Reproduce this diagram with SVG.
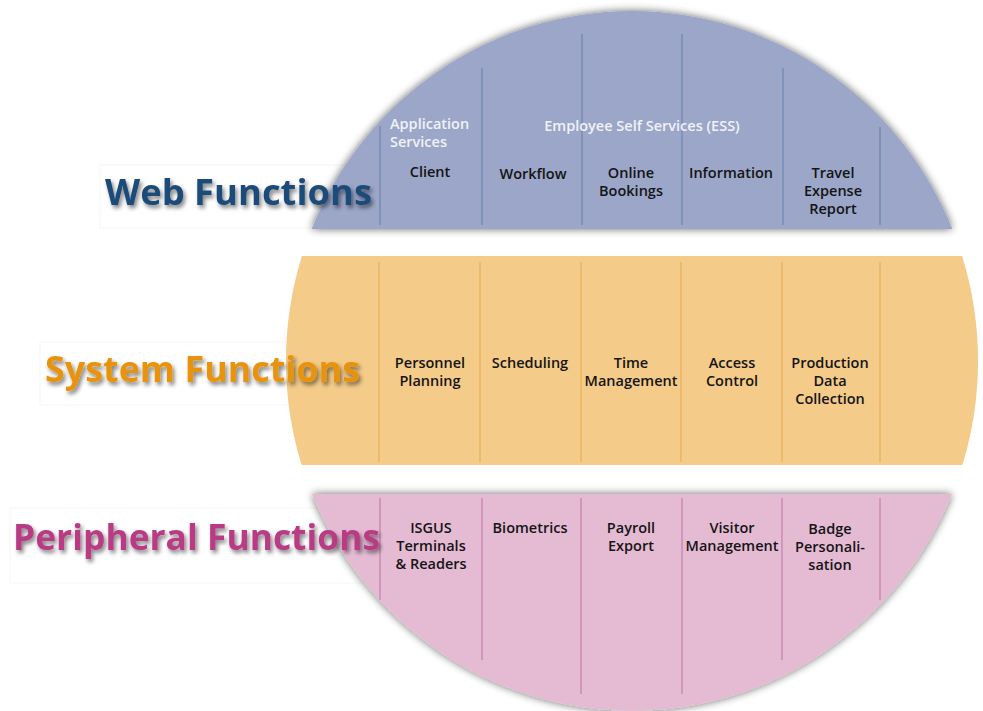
<svg xmlns="http://www.w3.org/2000/svg" width="983" height="711" viewBox="0 0 983 711">
<defs>
<filter id="bandShadow" x="-10%" y="-20%" width="120%" height="140%">
<feGaussianBlur in="SourceAlpha" stdDeviation="4.5"/>
<feComponentTransfer><feFuncA type="linear" slope="0.6"/></feComponentTransfer>
<feMerge><feMergeNode/><feMergeNode in="SourceGraphic"/></feMerge>
</filter>
<filter id="textShadow" x="-5%" y="-30%" width="110%" height="160%">
<feGaussianBlur in="SourceAlpha" stdDeviation="2.2"/>
<feOffset dx="2" dy="3" result="b"/>
<feComponentTransfer><feFuncA type="linear" slope="0.5"/></feComponentTransfer>
<feMerge><feMergeNode/><feMergeNode in="SourceGraphic"/></feMerge>
</filter>
<style>
.t{font-family:"Open Sans","Liberation Sans",sans-serif;font-weight:600;font-size:14.5px;fill:#141414;text-anchor:middle}
.h{font-family:"Open Sans","Liberation Sans",sans-serif;font-weight:600;font-size:14.5px;fill:#f0f2f8}
.big{font-family:"Open Sans","Liberation Sans",sans-serif;font-weight:700;font-size:35px}
.box{fill:#ffffff;stroke:#f6f6f6;stroke-width:1}
.lw{stroke:#7f92b9;stroke-width:2}
.ls{stroke:#ecb565;stroke-width:1.6}
.lp{stroke:#cf8db5;stroke-width:1.6}
</style>
</defs>
<rect width="983" height="711" fill="#ffffff"/>

<g id="label-boxes">
<rect class="box" x="100" y="165" width="290" height="63"/>
<rect class="box" x="40" y="342" width="330" height="63"/>
<rect class="box" x="10" y="508" width="380" height="75"/>
</g>

<g id="web-band">
<path d="M311.6,229 A346,350 0 0,1 952.4,229 Z" fill="#9ba6c8" filter="url(#bandShadow)"/>
<line class="lw" x1="380" y1="126" x2="380" y2="225"/>
<line class="lw" x1="482" y1="68" x2="482" y2="225"/>
<line class="lw" x1="582" y1="34" x2="582" y2="225"/>
<line class="lw" x1="682" y1="34" x2="682" y2="225"/>
<line class="lw" x1="783" y1="68" x2="783" y2="225"/>
<line class="lw" x1="880" y1="127" x2="880" y2="225"/>
</g>

<g id="system-band">
<path d="M301.9,256 L962.1,256 A346,350 0 0,1 962.4,465 L301.6,465 A346,350 0 0,1 301.9,256 Z" fill="#f4cb89"/>
<line class="ls" x1="379" y1="262" x2="379" y2="462"/>
<line class="ls" x1="480" y1="262" x2="480" y2="462"/>
<line class="ls" x1="581" y1="262" x2="581" y2="462"/>
<line class="ls" x1="681" y1="262" x2="681" y2="462"/>
<line class="ls" x1="782" y1="262" x2="782" y2="462"/>
<line class="ls" x1="880" y1="262" x2="880" y2="462"/>
</g>

<g id="peripheral-band">
<path d="M312,494 L952,494 A346,350 0 0,1 312,494 Z" fill="#e5bbd4" filter="url(#bandShadow)"/>
<line class="lp" x1="380" y1="498" x2="380" y2="600"/>
<line class="lp" x1="482" y1="498" x2="482" y2="660"/>
<line class="lp" x1="581" y1="498" x2="581" y2="694"/>
<line class="lp" x1="682" y1="498" x2="682" y2="694"/>
<line class="lp" x1="782" y1="498" x2="782" y2="660"/>
<line class="lp" x1="880" y1="498" x2="880" y2="600"/>
</g>

<g id="title-web"><text class="big" x="105" y="205" fill="#1d4b79" textLength="267" lengthAdjust="spacingAndGlyphs" filter="url(#textShadow)">Web Functions</text></g>
<g id="title-system"><text class="big" x="45" y="382" fill="#e8930f" textLength="315" lengthAdjust="spacingAndGlyphs" filter="url(#textShadow)">System Functions</text></g>
<g id="title-peripheral"><text class="big" x="13" y="550" fill="#b83b84" textLength="367" lengthAdjust="spacingAndGlyphs" filter="url(#textShadow)">Peripheral Functions</text></g>

<g id="hdr-app"><text class="h" x="390" y="129">Application</text><text class="h" x="390" y="147">Services</text></g>
<g id="hdr-ess"><text class="h" x="642" y="131" text-anchor="middle">Employee Self Services (ESS)</text></g>

<g id="n-client"><text class="t" x="430" y="177">Client</text></g>
<g id="n-workflow"><text class="t" x="533" y="179">Workflow</text></g>
<g id="n-online"><text class="t" x="631" y="178">Online</text><text class="t" x="631" y="196">Bookings</text></g>
<g id="n-information"><text class="t" x="731" y="178">Information</text></g>
<g id="n-travel"><text class="t" x="833" y="178">Travel</text><text class="t" x="833" y="196">Expense</text><text class="t" x="833" y="214">Report</text></g>

<g id="n-personnel"><text class="t" x="430" y="368">Personnel</text><text class="t" x="430" y="386">Planning</text></g>
<g id="n-scheduling"><text class="t" x="530" y="368">Scheduling</text></g>
<g id="n-time"><text class="t" x="631" y="368">Time</text><text class="t" x="631" y="386">Management</text></g>
<g id="n-access"><text class="t" x="732" y="368">Access</text><text class="t" x="732" y="386">Control</text></g>
<g id="n-production"><text class="t" x="830" y="368">Production</text><text class="t" x="830" y="386">Data</text><text class="t" x="830" y="404">Collection</text></g>

<g id="n-isgus"><text class="t" x="431" y="533">ISGUS</text><text class="t" x="431" y="551">Terminals</text><text class="t" x="431" y="569">&amp; Readers</text></g>
<g id="n-biometrics"><text class="t" x="530" y="533">Biometrics</text></g>
<g id="n-payroll"><text class="t" x="631" y="533">Payroll</text><text class="t" x="631" y="551">Export</text></g>
<g id="n-visitor"><text class="t" x="732" y="533">Visitor</text><text class="t" x="732" y="551">Management</text></g>
<g id="n-badge"><text class="t" x="830" y="534">Badge</text><text class="t" x="830" y="552">Personali-</text><text class="t" x="830" y="570">sation</text></g>

<g id="connectors"></g>
</svg>
